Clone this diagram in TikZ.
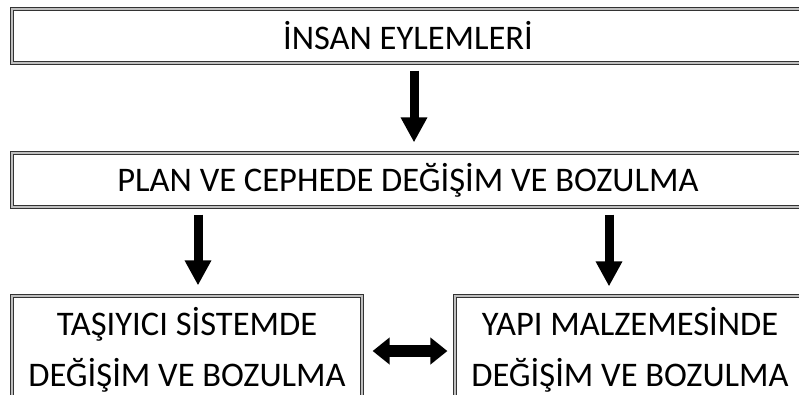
\documentclass[tikz,border=0pt]{standalone}
\usepackage{fontspec}
\setmainfont{Carlito}
\usetikzlibrary{arrows.meta}
\tikzset{
  box/.style={draw=black!80, double=black!25, line width=1.2pt, double distance=1.5pt,
    fill=white, inner sep=0pt, align=center, font=\fontsize{34.5}{51}\selectfont},
  downarrow/.style={line width=9pt, -{Triangle[width=25pt,length=25pt]}},
  bothway/.style={line width=12pt, {Triangle[width=26pt,length=17pt]}-{Triangle[width=26pt,length=17pt]}}
}

\begin{document}
\begin{tikzpicture}[x=1pt, y=-1pt]

    \useasboundingbox (0,0) rectangle (799,394);
    \clip (0,0) rectangle (799,394);

    \draw(408,36) node[box, minimum width=792pt, minimum height=54pt] (insan) {İNSAN EYLEMLERİ};
    \draw(408,180) node[box, minimum width=792pt, minimum height=54pt] (plan) {PLAN VE CEPHEDE DEĞİŞİM VE BOZULMA};
    \draw(187,350) node[box, minimum width=350pt, minimum height=108pt] (tasiyici) {TAŞIYICI SİSTEMDE\\DEĞİŞİM VE BOZULMA};
    \draw(630,350) node[box, minimum width=350pt, minimum height=108pt] (malzeme) {YAPI MALZEMESİNDE\\DEĞİŞİM VE BOZULMA};

    \draw[downarrow, shorten <=7pt, shorten >=10pt] ([xshift=6pt]insan.south) to ([xshift=6pt]plan.north);
    \draw[downarrow, shorten <=7pt, shorten >=10pt] ([xshift=11pt]plan.south -| tasiyici) to ([xshift=11pt]tasiyici.north);
    \draw[downarrow, shorten <=7pt, shorten >=9pt] ([xshift=-21pt]plan.south -| malzeme) to ([xshift=-21pt]malzeme.north);
    \draw[bothway, shorten <=10pt, shorten >=7pt] ([yshift=-1pt]tasiyici.east) to ([yshift=-1pt]malzeme.west);

\end{tikzpicture}
\end{document}
